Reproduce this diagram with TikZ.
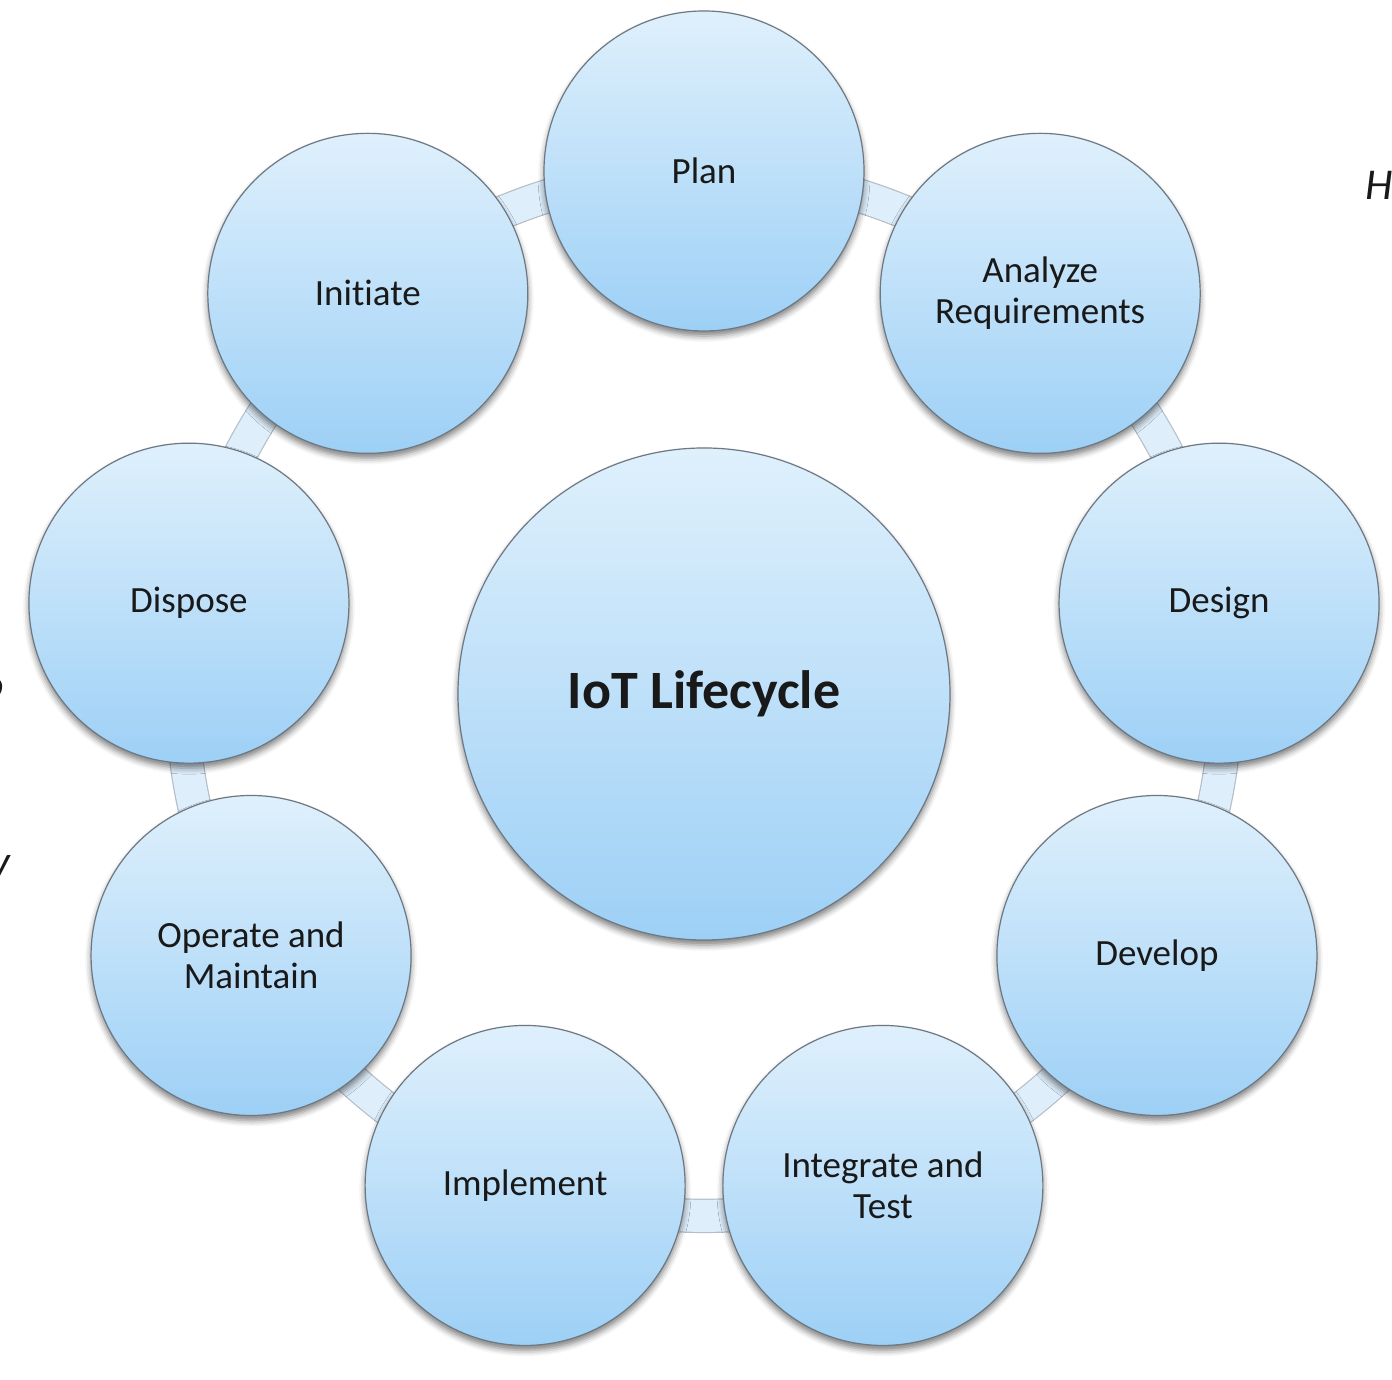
\documentclass[tikz,border=0pt]{standalone}
\usepackage{fontspec}
\setmainfont{Carlito}[Ligatures={NoCommon}]
\usetikzlibrary{calc,shadows.blur}
\pgfdeclarelayer{background}
\pgfsetlayers{background,main}
\definecolor{ctop}{RGB}{223,240,252}
\definecolor{cbot}{RGB}{157,208,246}
\definecolor{cedge}{RGB}{110,120,130}
\definecolor{band}{RGB}{222,238,251}
\definecolor{bandedge}{RGB}{180,190,200}
\definecolor{ink}{RGB}{25,25,25}
\tikzset{
  stage/.style={circle, minimum size=160pt, inner sep=0pt, draw=cedge, line width=0.6pt,
    top color=ctop, bottom color=cbot, align=center, text=ink,
    font=\fontsize{18.5}{20.5}\selectfont,
    blur shadow={shadow xshift=0pt, shadow yshift=-2.5pt, shadow blur radius=3pt, shadow opacity=50}},
  hub/.style={stage, minimum size=246pt, font=\bfseries\fontsize{27}{30}\selectfont},
  link/.style={draw=bandedge, line width=0.6pt, double=band, double distance=16pt},
  stray/.style={text=ink, inner sep=0pt, font=\itshape\fontsize{22}{26}\selectfont}
}
\begin{document}
\begin{tikzpicture}[x=0.5pt,y=0.5pt]
\useasboundingbox (0,0) rectangle (1392,1380);
\coordinate (c) at (704,686);
\node[hub] (hub) at (c) {IoT Lifecycle};
\node[stage] (plan) at ($(c)+(90:523)$) {Plan};
\node[stage] (analyze) at ($(c)+(50:523)$) {Analyze\\Requirements};
\node[stage] (design) at ($(c)+(10:523)$) {Design};
\node[stage] (develop) at ($(c)+(-30:523)$) {Develop};
\node[stage] (integrate) at ($(c)+(-70:523)$) {Integrate and\\Test};
\node[stage] (implement) at ($(c)+(-110:523)$) {Implement};
\node[stage] (operate) at ($(c)+(-150:523)$) {Operate and\\Maintain};
\node[stage] (dispose) at ($(c)+(170:523)$) {Dispose};
\node[stage] (initiate) at ($(c)+(130:523)$) {Initiate};
\begin{pgfonlayer}{background}
\foreach \a/\b in {plan/analyze, analyze/design, design/develop, develop/integrate,
  integrate/implement, implement/operate, operate/dispose, dispose/initiate, initiate/plan}
  \draw[link] (\a.center) to[bend left=20, looseness=0.85] (\b.center);
\end{pgfonlayer}
\node[stray, anchor=base west] (h) at (1365,1180) {H};
\node[stray, anchor=base east] (o) at (4,680) {o};
\node[stray, anchor=base east] (y) at (11,503) {y};
\end{tikzpicture}
\end{document}
